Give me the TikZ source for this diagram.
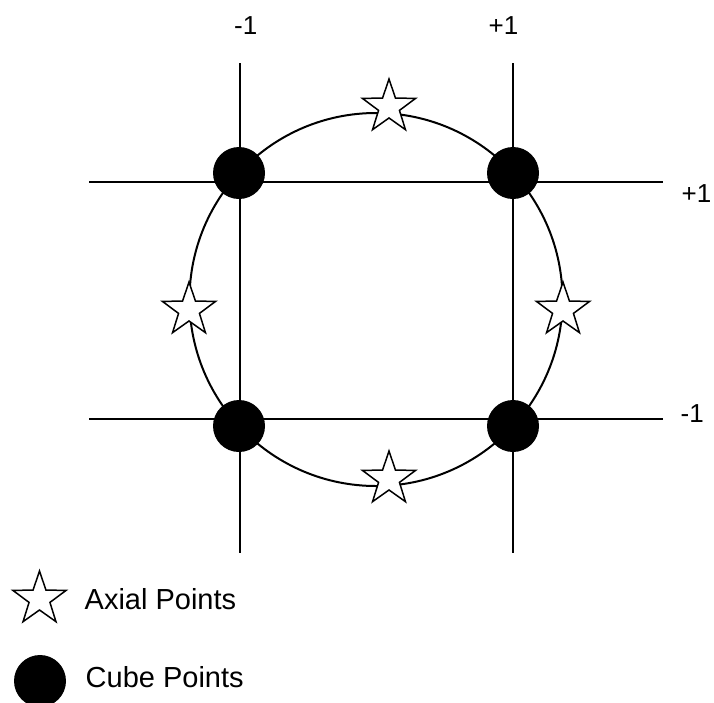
\documentclass[tikz,border=0pt]{standalone}
\usepackage{fontspec}
\setmainfont{Liberation Sans}
\usetikzlibrary{shapes.geometric}
\begin{document}
\begin{tikzpicture}[x=1pt,y=-1pt,
  axisline/.style={line width=2pt,line cap=butt},
  cubept/.style={circle,fill=black,minimum size=52pt,inner sep=0pt},
  axialpt/.style={star,star points=5,star point ratio=2.55,draw=black,fill=white,line width=1.5pt,minimum size=56pt,inner sep=0pt},
  lbl/.style={anchor=base west,inner sep=0pt,font=\fontsize{26}{30}\selectfont},
  leg/.style={anchor=base west,inner sep=0pt,font=\fontsize{29}{34}\selectfont}]
\useasboundingbox (0,0) rectangle (714,702);
% axis end points
\coordinate (vlt) at (239.5,63);  \coordinate (vlb) at (239.5,553);
\coordinate (vrt) at (513,63);    \coordinate (vrb) at (513,553);
\coordinate (htl) at (89,182);    \coordinate (htr) at (663,182);
\coordinate (hbl) at (89,419);    \coordinate (hbr) at (663,419);
\coordinate (ctr) at (376,299.5);
% lines
\draw[axisline] (vlt) -- (vlb);
\draw[axisline] (vrt) -- (vrb);
\draw[axisline] (htl) -- (htr);
\draw[axisline] (hbl) -- (hbr);
% circle
\draw[line width=2pt] (ctr) circle[radius=186.5];
% cube points
\node[cubept] (c1) at (239,173) {};
\node[cubept] (c2) at (513,173) {};
\node[cubept] (c3) at (239,426) {};
\node[cubept] (c4) at (513,426) {};
% axial points
\node[axialpt] (a1) at (389,107) {};
\node[axialpt] (a2) at (189,310) {};
\node[axialpt] (a3) at (563,310) {};
\node[axialpt] (a4) at (389,479) {};
% labels
\node[lbl] (l1) at (234,34) {-1};
\node[lbl] (l2) at (488.5,34) {+1};
\node[lbl] (l3) at (681.5,202) {+1};
\node[lbl] (l4) at (680.5,422) {-1};
% legend
\node[axialpt] (la) at (39.5,599) {};
\node[leg] (ta) at (84.5,609) {Axial Points};
\node[cubept] (lc) at (40,681) {};
\node[leg] (tc) at (85.5,687) {Cube Points};
\end{tikzpicture}
\end{document}
